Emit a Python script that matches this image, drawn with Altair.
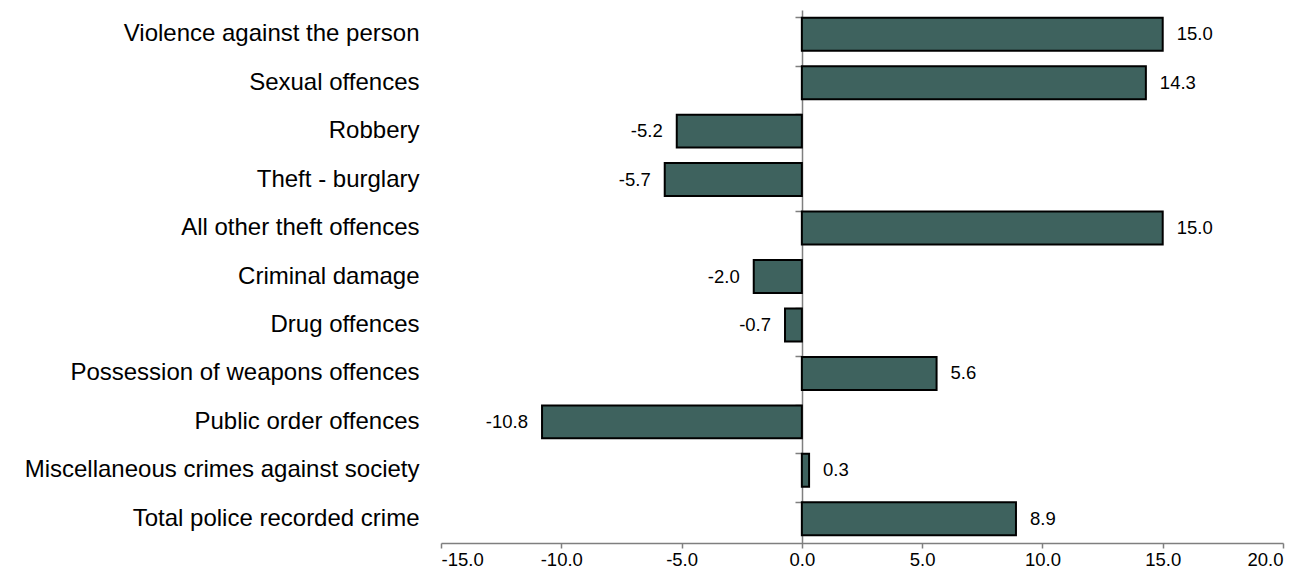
import altair as alt
import pandas as pd

categories = [
    "Violence against the person",
    "Sexual offences",
    "Robbery",
    "Theft - burglary",
    "All other theft offences",
    "Criminal damage",
    "Drug offences",
    "Possession of weapons offences",
    "Public order offences",
    "Miscellaneous crimes against society",
    "Total police recorded crime",
]
values = [15.0, 14.3, -5.2, -5.7, 15.0, -2.0, -0.7, 5.6, -10.8, 0.3, 8.9]
x_ticks = [-15, -10, -5, 0, 5, 10, 15, 20]

df = pd.DataFrame({"category": categories, "value": values})

FONT = "Liberation Sans"
GRAY = "#7f7f7f"
LABEL_EXPR = "(datum.value < 0 ? '-' : '') + format(abs(datum.value), '.1f')"

y_scale = alt.Scale(domain=categories, paddingInner=0.32, paddingOuter=0.16)
x_scale = alt.Scale(domain=[-15, 20], nice=False, zero=False)

x_axis = alt.Axis(title=None, values=x_ticks, labelExpr=LABEL_EXPR, grid=False,
                  labelFontSize=18.5, labelFont=FONT, labelColor="black",
                  domainColor=GRAY, tickColor=GRAY, tickSize=5, tickWidth=1.5,
                  labelPadding=2, domainWidth=1.5)

bars = alt.Chart(df).mark_bar(
    color="#3E625E", stroke="black", strokeWidth=2
).encode(
    y=alt.Y("category:N", sort=categories, scale=y_scale,
            axis=alt.Axis(title=None, domain=False, ticks=False, grid=False,
                          labelFontSize=24, labelFont=FONT, labelColor="black",
                          labelPadding=22, labelLimit=600, orient="left")),
    x=alt.X("value:Q", scale=x_scale, axis=x_axis),
)

pos_text = alt.Chart(df).transform_filter("datum.value >= 0").transform_calculate(
    label=LABEL_EXPR
).mark_text(
    align="left", baseline="middle", dx=14, fontSize=18.5, font=FONT, color="black"
).encode(
    y=alt.Y("category:N", sort=categories, scale=y_scale,
            axis=alt.Axis(title=None, labels=False, grid=False, domain=True,
                          domainColor=GRAY, domainWidth=1.5, ticks=True, tickColor=GRAY,
                          tickWidth=1.5, tickSize=7, bandPosition=0, orient="left",
                          offset=-361)),
    x=alt.X("value:Q", scale=x_scale, axis=x_axis),
    text=alt.Text("label:N"),
)

neg_text = alt.Chart(df).transform_filter("datum.value < 0").transform_calculate(
    label=LABEL_EXPR
).mark_text(
    align="right", baseline="middle", dx=-14, fontSize=18.5, font=FONT, color="black"
).encode(
    y=alt.Y("category:N", sort=categories, scale=y_scale, axis=None),
    x=alt.X("value:Q", scale=x_scale, axis=x_axis),
    text=alt.Text("label:N"),
)

chart = alt.layer(bars, pos_text, neg_text).resolve_axis(y="independent").properties(
    width=842,
    height=533,
    background="white",
    autosize=alt.AutoSizeParams(type="none"),
    padding={"left": 433, "top": 2, "right": 22, "bottom": 25},
).configure_view(strokeWidth=0, stroke="transparent")

chart.save("out.html", embed_options={"renderer": "svg", "actions": False})
